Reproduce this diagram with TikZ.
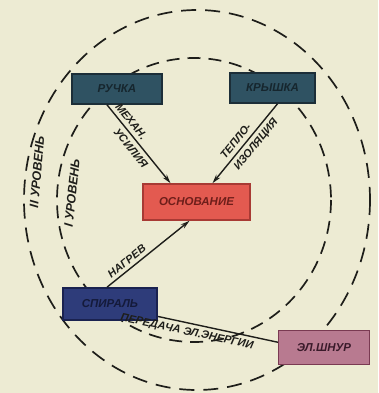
\documentclass[tikz,border=0pt]{standalone}
\usepackage{fontspec}
\setmainfont{Liberation Sans}
\usetikzlibrary{arrows.meta}
\definecolor{paper}{HTML}{EDEBD3}
\definecolor{ink}{HTML}{1E1E1A}
\definecolor{tealbox}{HTML}{2F5262}
\definecolor{tealedge}{HTML}{1C2E38}
\definecolor{tealtext}{HTML}{16262E}
\definecolor{redbox}{HTML}{E35A50}
\definecolor{rededge}{HTML}{A83A34}
\definecolor{redtext}{HTML}{6E1E1A}
\definecolor{navybox}{HTML}{2E3C7A}
\definecolor{navyedge}{HTML}{1A2250}
\definecolor{navytext}{HTML}{141A3A}
\definecolor{mauvebox}{HTML}{B87A90}
\definecolor{mauveedge}{HTML}{7A3A52}
\definecolor{mauvetext}{HTML}{3A1A2A}
\tikzset{
  part/.style={draw, line width=1.6pt, minimum height=30pt, inner sep=2pt,
    font=\bfseries\itshape\fontsize{11.5}{12}\selectfont},
  lvl/.style={dashed, line width=1.7pt, draw=ink, dash pattern=on 15pt off 9pt},
  link/.style={line width=1.4pt, draw=ink},
  arr/.style={link, -{Stealth[length=9pt,width=5pt]}},
  lab/.style={font=\bfseries\itshape\fontsize{11}{12}\selectfont, text=ink, inner sep=1pt},
  lvlab/.style={font=\bfseries\itshape\fontsize{12.5}{13}\selectfont, text=ink, inner sep=1pt}
}
\begin{document}
\begin{tikzpicture}[x=1pt,y=-1pt]
\fill[paper] (0,0) rectangle (378,393);
\useasboundingbox (0,0) rectangle (378,393);
% level circles
\draw[lvl] (197,200) ellipse [x radius=173, y radius=190];
\draw[lvl, dash pattern=on 13pt off 8pt] (194,200) ellipse [x radius=137, y radius=142];
% node positions
\coordinate (pr) at (117,89);
\coordinate (pk) at (272.5,88);
\coordinate (po) at (196.5,202);
\coordinate (ps) at (110,304);
\coordinate (pe) at (324,347.5);
% cord line under the boxes
\draw[link] ([xshift=-10pt]ps) -- ([yshift=5pt,xshift=-45pt]pe);
% boxes
\node[part, fill=tealbox, draw=tealedge, text=tealtext, minimum width=90pt] (ruchka) at (pr) {РУЧКА};
\node[part, fill=tealbox, draw=tealedge, text=tealtext, minimum width=85pt] (kryshka) at (pk) {КРЫШКА};
\node[part, fill=redbox, draw=rededge, text=redtext, minimum width=107pt, minimum height=36pt] (osn) at (po) {ОСНОВАНИЕ};
\node[part, fill=navybox, draw=navyedge, text=navytext, minimum width=94pt, minimum height=32pt] (spir) at (ps) {СПИРАЛЬ};
\node[part, fill=mauvebox, draw=mauveedge, text=mauvetext, minimum width=91pt, minimum height=34pt] (shnur) at (pe) {ЭЛ.ШНУР};
% connectors
\draw[arr] ([xshift=-10pt]ruchka.south) -- ([xshift=-26pt]osn.north);
\draw[arr] ([xshift=5pt]kryshka.south) -- ([xshift=16pt]osn.north);
\draw[arr] ([xshift=-3pt]spir.north) -- ([xshift=-7pt]osn.south);
% labels along connectors
\path ([xshift=-10pt]ruchka.south) -- ([xshift=-26pt]osn.north)
  node[lab, sloped, above=3.5pt, pos=0.28] (l1) {МЕХАН.}
  node[lab, sloped, below=3.5pt, pos=0.48] (l2) {УСИЛИЯ};
\path ([xshift=16pt]osn.north) -- ([xshift=5pt]kryshka.south)
  node[lab, sloped, above=3.5pt, pos=0.46] (l3) {ТЕПЛО-}
  node[lab, sloped, below=3.5pt, pos=0.56] (l4) {ИЗОЛЯЦИЯ};
\path ([xshift=-3pt]spir.north) -- ([xshift=-7pt]osn.south)
  node[lab, sloped, above=3pt, pos=0.3] (l5) {НАГРЕВ};
\path ([xshift=-10pt]spir.center) -- ([yshift=5pt]shnur.west)
  node[lab, sloped, below=3pt, pos=0.5] (l6) {ПЕРЕДАЧА ЭЛ.ЭНЕРГИИ};
% level labels
\node[lvlab, rotate=85] (lv2) at (37,172) {II УРОВЕНЬ};
\node[lvlab, rotate=84] (lv1) at (72,193) {I УРОВЕНЬ};
\end{tikzpicture}
\end{document}
